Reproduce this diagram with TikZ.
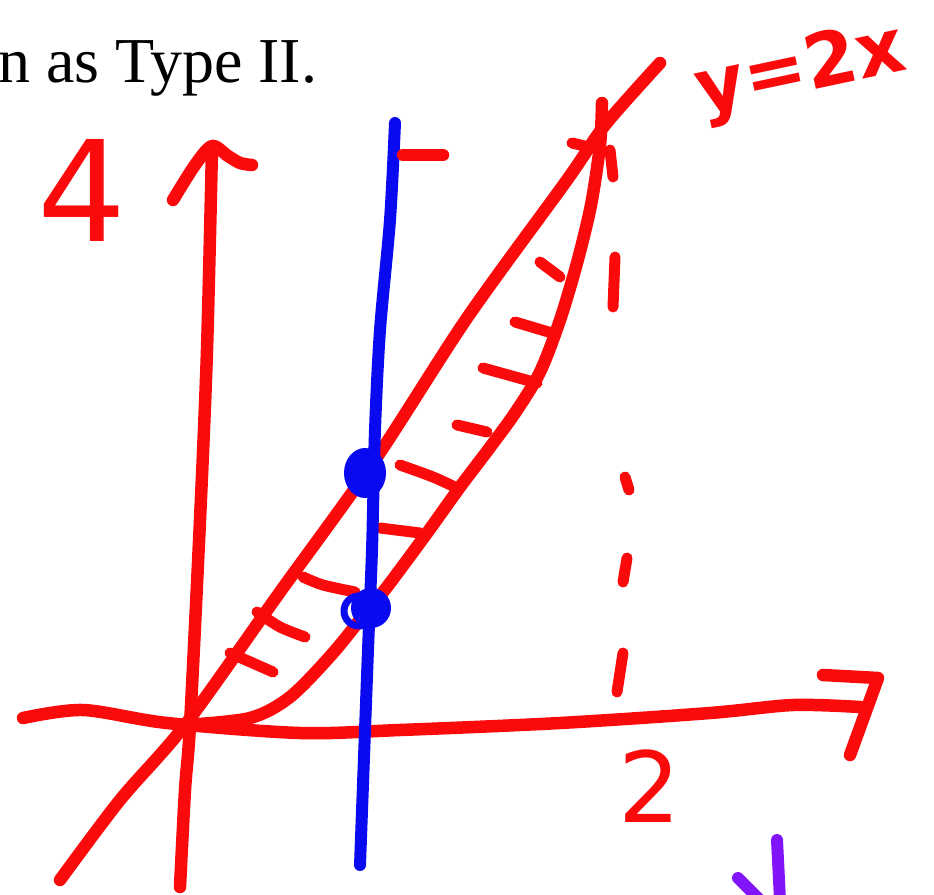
\documentclass[tikz,border=0pt]{standalone}
\usepackage{fontspec}
\setmainfont{Liberation Serif}
\newfontfamily\handfont{DejaVu Sans}
\definecolor{penred}{RGB}{250,10,10}
\definecolor{penblue}{RGB}{10,10,240}
\definecolor{penpurple}{RGB}{130,20,250}

\begin{document}
\begin{tikzpicture}[x=1pt, y=-1pt, line cap=round, line join=round,
  pen/.style={draw=penred, line width=12.5pt},
  bluepen/.style={draw=penblue, line width=12pt},
  hatch/.style={draw=penred, line width=11pt},
  marker/.style={text=penred, font=\handfont, inner sep=0pt}]

\useasboundingbox (0,0) rectangle (934,894);

% Heading line, cut off on the left
\node[anchor=base west, inner sep=0pt, font=\fontsize{64}{70}\selectfont] (heading) at (-2,82) {n as Type II.};

% x-axis with open arrowhead
\draw[pen] plot[smooth] coordinates {(23,718) (83,710) (167,723) (300,733) (400,730) (560,723) (710,713) (793,705) (860,707)};
\draw[pen] (823,675) -- (878,678) -- (850,755);

% y-axis with open arrowhead
\draw[pen] plot[smooth] coordinates {(180,887) (185,790) (190,725) (200,520) (207,350) (212,148)};
\draw[pen] plot[smooth] coordinates {(173,200) (195,165) (212,146) (228,156) (240,163) (252,165)};

% Line y=2x
\draw[pen] plot[smooth] coordinates {(60,880) (120,800) (185,725) (280,592) (375,460) (467,318) (567,180) (605,125) (660,63)};

% Parabola
\draw[pen] plot[smooth] coordinates {(185,725) (250,718) (290,697) (333,653) (370,607) (387,587) (427,533) (460,487) (488,450) (515,413) (540,372) (560,320) (577,263) (591,205) (600,145) (602,103)};

% Hatching between the curves
\draw[hatch] (540,262) -- (560,277);
\draw[hatch] (515,322) -- (552,333);
\draw[hatch] (483,368) -- (537,383);
\draw[hatch] (457,425) -- (487,432);
\draw[hatch] plot[smooth] coordinates {(400,465) (433,477) (457,488)};
\draw[hatch] (380,528) -- (420,533);
\draw[hatch] plot[smooth] coordinates {(303,577) (323,585) (355,592)};
\draw[hatch] plot[smooth] coordinates {(257,612) (280,627) (305,637)};
\draw[hatch] (230,653) -- (273,672);

% Dashed line at x=2
\draw[hatch] (572,143) -- (593,148);
\draw[hatch] (610,150) -- (613,177);
\draw[hatch] (615,257) -- (613,307);
\draw[hatch] (625,477) -- (629,490);
\draw[hatch] (627,558) -- (623,582);
\draw[hatch] (623,653) -- (617,692);

% Vertical slice
\draw[bluepen] plot[smooth] coordinates {(395,123) (390,220) (380,330) (375,430) (372,550) (368,650) (360,865)};
\draw[pen] (403,155) -- (443,155);
\fill[penblue] (365,473) ellipse [x radius=21pt, y radius=25pt];
\fill[penblue] (371,608) ellipse [x radius=20pt, y radius=20pt];
\draw[penblue, line width=7pt] (359,611) circle [radius=15pt];

% Labels
\node[marker, font=\handfont\fontsize{140}{140}\selectfont] (four) at (82,190) {4};
\node[marker, font=\handfont\fontsize{98}{98}\selectfont] (two) at (650,786) {2};
\node[marker, font=\handfont\bfseries\fontsize{75}{75}\selectfont, rotate=12, anchor=base] (lineeq) at (805,92) {y=2x};

% Purple stroke at the bottom edge
\draw[draw=penpurple, line width=12pt] (738,878) -- (760,900);
\draw[draw=penpurple, line width=12pt] (777,840) -- (780,900);

\end{tikzpicture}
\end{document}
